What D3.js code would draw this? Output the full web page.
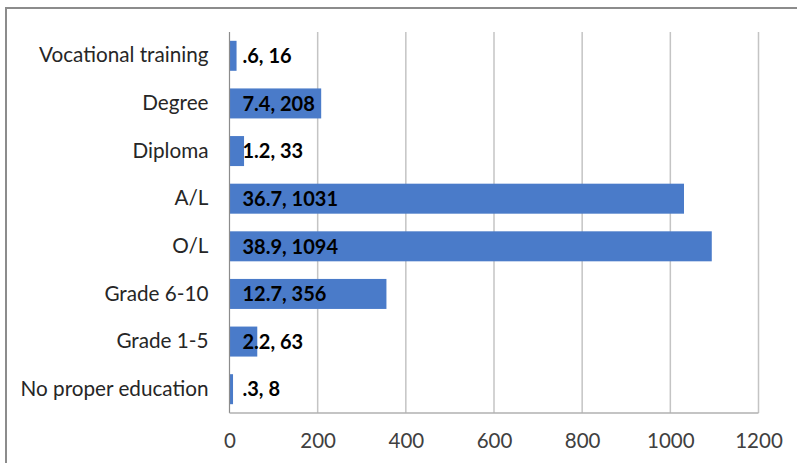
<!DOCTYPE html>
<html>
<head>
<meta charset="utf-8">
<script src="https://cdn.jsdelivr.net/npm/d3@7"></script>
<style>
  html, body { margin: 0; padding: 0; background: #fff; }
  svg { display: block; }
</style>
</head>
<body>
<svg id="chart" width="797" height="463"></svg>
<script>
// Education level of respondents (count and share in %)
const categories = ["Vocational training", "Degree", "Diploma", "A/L", "O/L", "Grade 6-10", "Grade 1-5", "No proper education"];
const counts = [16, 208, 33, 1031, 1094, 356, 63, 8];
const percents = [".6", "7.4", "1.2", "36.7", "38.9", "12.7", "2.2", ".3"];
const xTicks = [0, 200, 400, 600, 800, 1000, 1200];

const FONT = "Lato, 'Open Sans', sans-serif";
const svg = d3.select("#chart");
const margin = { left: 229.5, right: 38, top: 32, bottom: 50 };

// outer chart frame
svg.append("rect")
  .attr("x", 6).attr("y", 8)
  .attr("width", 820).attr("height", 480)
  .attr("fill", "none")
  .attr("stroke", "#8c8c8c")
  .attr("stroke-width", 2);

const x = d3.scaleLinear().domain([0, 1200]).range([margin.left, 758.5]);
const y = d3.scaleBand().domain(categories).range([margin.top, 413]).paddingInner(0.37).paddingOuter(0.185);

// vertical gridlines
svg.append("g").selectAll("line")
  .data(xTicks.slice(1))
  .join("line")
  .attr("x1", d => x(d)).attr("x2", d => x(d))
  .attr("y1", margin.top).attr("y2", 413)
  .attr("stroke", "#c4c4c4")
  .attr("stroke-width", 1.5);

// bars
svg.append("g").selectAll("rect")
  .data(counts)
  .join("rect")
  .attr("x", x(0))
  .attr("y", (d, i) => y(categories[i]))
  .attr("width", d => x(d) - x(0))
  .attr("height", y.bandwidth())
  .attr("fill", "#4a7bc9");

// axis lines
svg.append("line")
  .attr("x1", x(0)).attr("x2", x(0))
  .attr("y1", margin.top).attr("y2", 413)
  .attr("stroke", "#8c8c8c").attr("stroke-width", 1.2);
svg.append("line")
  .attr("x1", x(0)).attr("x2", x(1200))
  .attr("y1", 413).attr("y2", 413)
  .attr("stroke", "#b0b0b0").attr("stroke-width", 1.5);

// x tick labels
const xAxis = d3.axisBottom(x).tickValues(xTicks).tickFormat(d3.format("d")).tickSize(0).tickPadding(0);
const gx = svg.append("g").attr("transform", "translate(0,448)").call(xAxis);
gx.select(".domain").remove();
gx.selectAll("text")
  .attr("dy", 0)
  .attr("font-family", FONT)
  .attr("font-size", 20.5)
  .attr("fill", "#404040");

// category labels
const yAxis = d3.axisLeft(y).tickSize(0).tickPadding(21);
const gy = svg.append("g").attr("transform", `translate(${x(0)},0)`).call(yAxis);
gy.select(".domain").remove();
gy.selectAll("text")
  .attr("font-family", FONT)
  .attr("font-size", 20.7)
  .attr("fill", "#262626");

// value labels "percent, count"
svg.append("g").selectAll("text")
  .data(counts)
  .join("text")
  .attr("x", x(0) + 13)
  .attr("y", (d, i) => y(categories[i]) + y.bandwidth() / 2)
  .attr("dy", "0.36em")
  .attr("font-family", FONT)
  .attr("font-weight", "bold")
  .attr("font-size", 20)
  .attr("fill", "#000")
  .text((d, i) => `${percents[i]}, ${d}`);
</script>
</body>
</html>
